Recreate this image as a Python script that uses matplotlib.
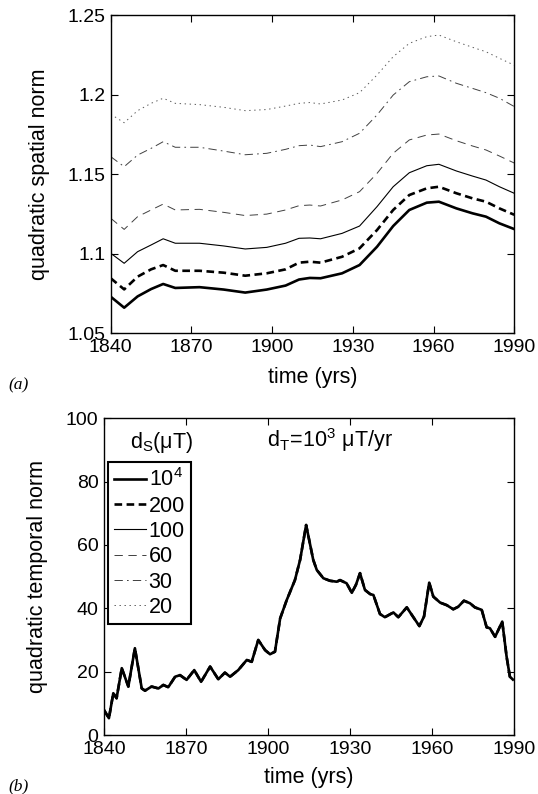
import matplotlib
matplotlib.use("Agg")
import matplotlib.pyplot as plt

plt.rcParams['font.family'] = ['Liberation Sans', 'DejaVu Sans']
plt.rcParams['mathtext.fontset'] = 'custom'
plt.rcParams['mathtext.rm'] = 'Liberation Sans'
plt.rcParams['mathtext.it'] = 'Liberation Sans:italic'
plt.rcParams['lines.scale_dashes'] = False

# ---------------- data ----------------
years_a = [1840, 1845, 1850, 1855, 1859.5, 1864, 1873, 1882, 1890, 1898, 1905, 1910,
           1914, 1918, 1926, 1932.5, 1939, 1945, 1951, 1957.5, 1962, 1968.5, 1974.5,
           1979.5, 1984.5, 1990]
spatial_1e4 = [1.0730, 1.0661, 1.0732, 1.0778, 1.0810, 1.0785, 1.0790, 1.0775, 1.0756, 1.0775,
               1.0800, 1.0838, 1.0848, 1.0846, 1.0877, 1.0929, 1.1044, 1.1174, 1.1275, 1.1321,
               1.1327, 1.1285, 1.1254, 1.1233, 1.1191, 1.1155]
spatial_200 = [1.0846, 1.0776, 1.0856, 1.0902, 1.0929, 1.0893, 1.0893, 1.0881, 1.0862, 1.0877,
               1.0902, 1.0944, 1.0950, 1.0944, 1.0981, 1.1034, 1.1149, 1.1275, 1.1369, 1.1411,
               1.1421, 1.1380, 1.1348, 1.1327, 1.1285, 1.1245]
spatial_100 = [1.1003, 1.0940, 1.1013, 1.1055, 1.1094, 1.1066, 1.1066, 1.1049, 1.1030, 1.1040,
               1.1066, 1.1097, 1.1099, 1.1094, 1.1128, 1.1174, 1.1296, 1.1421, 1.1509, 1.1553,
               1.1562, 1.1520, 1.1488, 1.1463, 1.1421, 1.1380]
spatial_60 = [1.1223, 1.1153, 1.1233, 1.1275, 1.1312, 1.1275, 1.1279, 1.1260, 1.1240, 1.1249,
              1.1275, 1.1302, 1.1306, 1.1300, 1.1338, 1.1390, 1.1505, 1.1631, 1.1715, 1.1746,
              1.1752, 1.1710, 1.1677, 1.1652, 1.1614, 1.1570]
spatial_30 = [1.1610, 1.1547, 1.1620, 1.1662, 1.1704, 1.1669, 1.1669, 1.1645, 1.1622, 1.1631,
              1.1656, 1.1679, 1.1683, 1.1673, 1.1704, 1.1757, 1.1872, 1.1997, 1.2081, 1.2112,
              1.2117, 1.2071, 1.2039, 1.2012, 1.1977, 1.1925]
spatial_20 = [1.1877, 1.1823, 1.1899, 1.1945, 1.1977, 1.1945, 1.1937, 1.1920, 1.1899, 1.1906,
              1.1928, 1.1945, 1.1950, 1.1941, 1.1966, 1.2012, 1.2123, 1.2238, 1.2322, 1.2364,
              1.2374, 1.2332, 1.2297, 1.2269, 1.2228, 1.2185]

years_b = [1840.0, 1841.8, 1843.4, 1844.6, 1846.5, 1848.9, 1851.3, 1853.8, 1855.0, 1857.4,
           1859.9, 1861.7, 1863.5, 1866.0, 1867.8, 1870.2, 1873.0, 1875.5, 1878.8, 1881.8,
           1884.2, 1886.1, 1889.1, 1892.2, 1894.0, 1896.4, 1898.9, 1900.7, 1902.5, 1904.4,
           1906.8, 1909.8, 1911.7, 1913.9, 1916.5, 1917.8, 1920.2, 1922.6, 1925.1, 1926.3,
           1928.7, 1930.6, 1932.1, 1933.6, 1935.4, 1937.3, 1938.5, 1940.9, 1942.7, 1945.8,
           1947.6, 1950.7, 1953.1, 1955.3, 1957.0, 1958.9, 1960.4, 1962.9, 1965.3, 1967.7,
           1969.5, 1971.6, 1973.8, 1975.6, 1978.1, 1979.9, 1981.1, 1983.0, 1985.6, 1987.2,
           1988.4, 1989.5]
temporal = [7.9, 5.3, 13.2, 11.6, 21.1, 15.3, 27.4, 14.7, 14.0, 15.3,
            14.7, 15.8, 15.1, 18.4, 18.9, 17.4, 20.5, 16.8, 21.6, 17.6,
            19.7, 18.4, 20.5, 23.7, 23.1, 30.0, 26.8, 25.5, 26.3, 36.8,
            42.6, 48.9, 55.3, 66.3, 55.3, 52.1, 49.5, 48.7, 48.4, 48.9,
            47.9, 44.9, 47.4, 51.1, 45.8, 44.5, 44.2, 38.2, 37.2, 38.7,
            37.2, 40.3, 37.2, 34.4, 37.4, 48.1, 43.7, 41.8, 41.0, 39.7,
            40.5, 42.4, 41.6, 40.3, 39.5, 34.0, 33.7, 31.0, 35.8, 24.7,
            18.4, 17.5]

legend_labels = [r'$\mathrm{10^4}$', '200', '100', '60', '30', '20']
x_ticks = [1840, 1870, 1900, 1930, 1960, 1990]
y_ticks_a = [1.05, 1.1, 1.15, 1.2, 1.25]
y_ticklabels_a = ['1.05', '1.1', '1.15', '1.2', '1.25']
y_ticks_b = [0, 20, 40, 60, 80, 100]

# ---------------- styles ----------------
styles = [
    dict(color='black', lw=1.9, ls='-'),
    dict(color='black', lw=1.9, ls=(0, (5.5, 3.2))),
    dict(color='black', lw=0.8, ls='-'),
    dict(color='0.25', lw=0.7, ls=(0, (6, 4))),
    dict(color='0.25', lw=0.7, ls=(0, (6, 3, 1.2, 3))),
    dict(color='0.35', lw=0.7, ls=(0, (1, 2.6))),
]
FS_TICK = 14
FS = 15.5

fig = plt.figure(figsize=(5.38, 7.94), dpi=100)
ax1 = fig.add_axes([0.2058, 0.5802, 0.750, 0.4009])
ax2 = fig.add_axes([0.1933, 0.0743, 0.7626, 0.3989])

spatial = [spatial_1e4, spatial_200, spatial_100, spatial_60, spatial_30, spatial_20]
for s, st in zip(spatial, styles):
    ax1.plot(years_a, s, **st)

handles = []
for i in range(len(styles) - 1, -1, -1):
    h, = ax2.plot(years_b, temporal, zorder=3 + (len(styles) - i), **styles[i])
    handles.insert(0, h)

for ax in (ax1, ax2):
    ax.set_xlim(1840, 1990)
    ax.set_xticks(x_ticks)
    ax.tick_params(direction='in', top=True, right=True, length=5, width=0.8,
                   labelsize=FS_TICK, pad=4)
    for sp in ax.spines.values():
        sp.set_linewidth(1.0)
    ax.set_xlabel('time (yrs)', fontsize=FS)

ax1.set_ylim(1.05, 1.25)
ax1.set_yticks(y_ticks_a)
ax1.set_yticklabels(y_ticklabels_a)
ax1.set_ylabel('quadratic spatial norm', fontsize=FS)
ax1.yaxis.set_label_coords(-0.15, 0.5)
ax1.xaxis.set_label_coords(0.5, -0.106)

ax2.set_ylim(0, 100)
ax2.set_yticks(y_ticks_b)
ax2.set_ylabel('quadratic temporal norm', fontsize=FS)
ax2.yaxis.set_label_coords(-0.136, 0.5)
ax2.xaxis.set_label_coords(0.5, -0.101)

leg = ax2.legend(handles, legend_labels, loc='upper left', bbox_to_anchor=(0.009, 0.862),
                 borderaxespad=0, fontsize=FS, handlelength=1.5, handletextpad=0.1,
                 labelspacing=0.2, borderpad=0.3, fancybox=False, framealpha=1)
leg.get_frame().set_edgecolor('black')
leg.get_frame().set_linewidth(1.5)

ax2.text(0.141, 0.906, r'$\mathrm{d_S(\mu T)}$', transform=ax2.transAxes,
         ha='center', va='baseline', fontsize=FS)
ax2.text(0.551, 0.909, r'$\mathrm{d_T\!=\!10^3\ \mu T/yr}$', transform=ax2.transAxes,
         ha='center', va='baseline', fontsize=FS)

fig.text(8 / 538, 1 - 385 / 794, '(a)', family='Liberation Serif', style='italic',
         fontsize=12.5, va='center', ha='left')
fig.text(8 / 538, 1 - 786 / 794, '(b)', family='Liberation Serif', style='italic',
         fontsize=12.5, va='center', ha='left')

fig.savefig('out.png', dpi=100)
